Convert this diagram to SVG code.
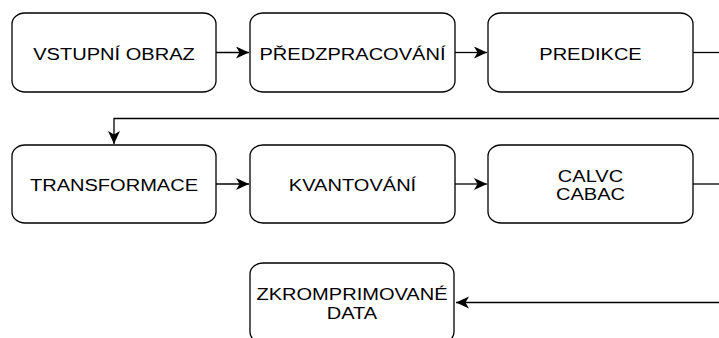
<svg xmlns="http://www.w3.org/2000/svg" width="719" height="338" viewBox="0 0 719 338">
  <style>
    .box { fill: #ffffff; stroke: #000000; stroke-width: 1.3; }
    .lbl { font-family: "Liberation Sans", Arial, sans-serif; font-size: 17px; fill: #000000; text-anchor: middle; }
    .conn { fill: none; stroke: #000000; stroke-width: 1.3; }
  </style>
  <defs>
    <marker id="arr" markerUnits="userSpaceOnUse" markerWidth="16" markerHeight="14" refX="13" refY="6" orient="auto">
      <path d="M0,0 L13,6 L0,12 L3.5,6 Z" fill="#000000" stroke="none"/>
    </marker>
  </defs>
  <rect width="719" height="338" fill="#ffffff"/>

  <g id="connectors">
    <path class="conn" d="M216,52.5 H249" marker-end="url(#arr)"/>
    <path class="conn" d="M455,52.5 H487" marker-end="url(#arr)"/>
    <path class="conn" d="M693,52.5 H719"/>
    <path class="conn" d="M719,118.5 H114 V144" marker-end="url(#arr)"/>
    <path class="conn" d="M216,184 H249" marker-end="url(#arr)"/>
    <path class="conn" d="M455,184 H487" marker-end="url(#arr)"/>
    <path class="conn" d="M693,184 H719"/>
    <path class="conn" d="M719,302.5 H456" marker-end="url(#arr)"/>
  </g>

  <g id="vstupni-obraz">
    <rect class="box" x="12" y="13" width="204" height="79" rx="13" ry="11"/>
    <text class="lbl" transform="translate(114 60) scale(1.18 1)">VSTUPNÍ OBRAZ</text>
  </g>
  <g id="predzpracovani">
    <rect class="box" x="250" y="13" width="205" height="79" rx="13" ry="11"/>
    <text class="lbl" transform="translate(352.5 60) scale(1.18 1)">PŘEDZPRACOVÁNÍ</text>
  </g>
  <g id="predikce">
    <rect class="box" x="488" y="13" width="205" height="79" rx="13" ry="11"/>
    <text class="lbl" transform="translate(590.5 60) scale(1.18 1)">PREDIKCE</text>
  </g>
  <g id="transformace">
    <rect class="box" x="12" y="145" width="204" height="78" rx="13" ry="11"/>
    <text class="lbl" transform="translate(114 190.5) scale(1.18 1)">TRANSFORMACE</text>
  </g>
  <g id="kvantovani">
    <rect class="box" x="250" y="145" width="205" height="78" rx="13" ry="11"/>
    <text class="lbl" transform="translate(352.5 190.5) scale(1.18 1)">KVANTOVÁNÍ</text>
  </g>
  <g id="calvc-cabac">
    <rect class="box" x="488" y="145" width="205" height="78" rx="13" ry="11"/>
    <text class="lbl" transform="translate(590.5 182.3) scale(1.18 1)">CALVC</text>
    <text class="lbl" transform="translate(590.5 200) scale(1.18 1)">CABAC</text>
  </g>
  <g id="zkomprimovane-data">
    <rect class="box" x="250" y="263" width="204" height="80" rx="13" ry="11"/>
    <text class="lbl" transform="translate(352 300) scale(1.18 1)">ZKROMPRIMOVANÉ</text>
    <text class="lbl" transform="translate(352 319) scale(1.18 1)">DATA</text>
  </g>
</svg>
